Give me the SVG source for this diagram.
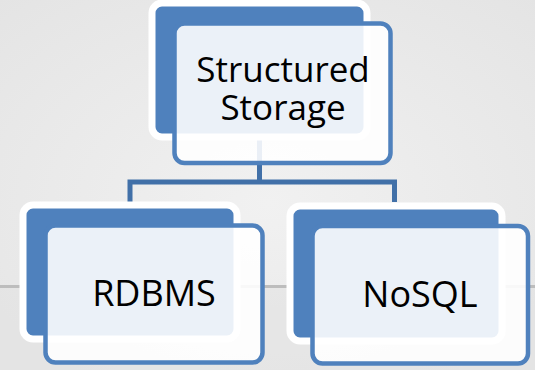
<svg xmlns="http://www.w3.org/2000/svg" width="535" height="370" viewBox="0 0 535 370">
  <defs>
    <radialGradient id="bg" cx="0.5" cy="0.55" r="0.75">
      <stop offset="0" stop-color="#F1F1F1"/>
      <stop offset="1" stop-color="#E4E4E4"/>
    </radialGradient>
  </defs>
  <style>
    .back { fill: #4F81BD; stroke: #FFFFFF; stroke-width: 7; }
    .front { fill: #FFFFFF; fill-opacity: 0.89; stroke: #4F81BD; stroke-width: 4.5; }
    .conn { fill: none; stroke: #4170A8; stroke-width: 5; }
    .label { font-family: "Open Sans", "DejaVu Sans", sans-serif; fill: #000000; text-anchor: middle; }
  </style>
  <rect x="0" y="0" width="535" height="370" fill="url(#bg)"/>
  <rect x="0" y="288" width="535" height="82" fill="#E3E3E3" opacity="0.6"/>
  <line x1="0" y1="286.5" x2="535" y2="286.5" stroke="#BDBDBD" stroke-width="3"/>

  <g id="connectors">
    <path class="conn" d="M259.5 137 V182 M130 202 V182 H394.5 V202"/>
  </g>

  <g id="node-structured-storage">
    <rect class="back" x="152" y="3" width="215" height="134" rx="10"/>
    <rect class="front" x="174.5" y="23.5" width="216" height="139.5" rx="10"/>
    <text class="label" font-size="35" x="283" y="82">Structured</text>
    <text class="label" font-size="35" x="283" y="120">Storage</text>
  </g>

  <g id="node-rdbms">
    <rect class="back" x="23" y="205" width="214" height="134" rx="10"/>
    <rect class="front" x="45.5" y="225.5" width="217" height="137" rx="10"/>
    <text class="label" font-size="36" x="154" y="306">RDBMS</text>
  </g>

  <g id="node-nosql">
    <rect class="back" x="290" y="206" width="212" height="135" rx="10"/>
    <rect class="front" x="312.5" y="226" width="215.5" height="137.5" rx="10"/>
    <text class="label" font-size="36" x="420" y="307">NoSQL</text>
  </g>
</svg>
